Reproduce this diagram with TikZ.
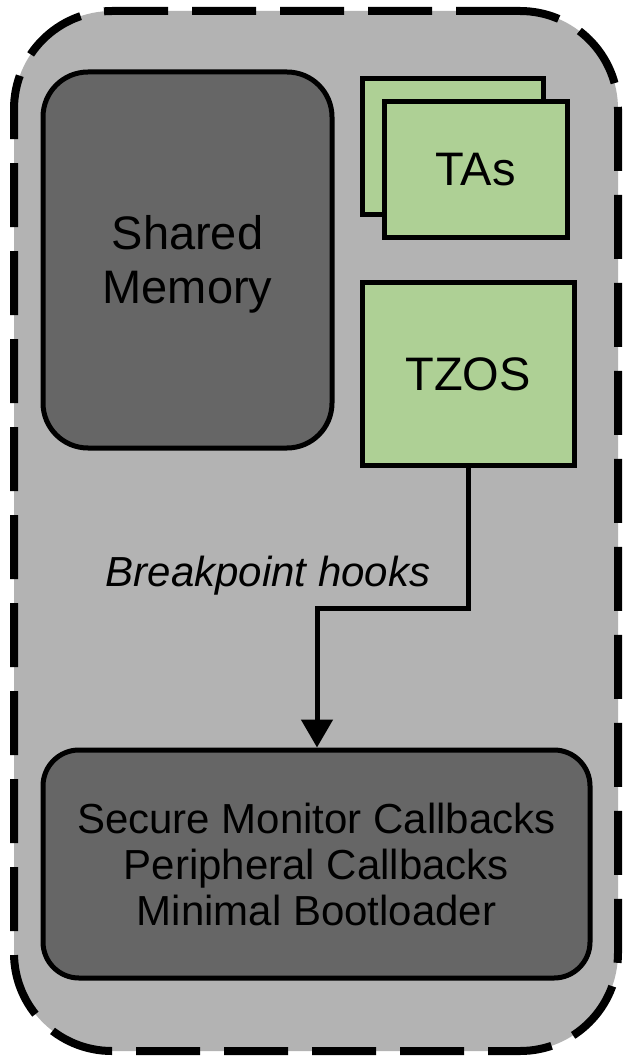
\documentclass[tikz,border=0pt]{standalone}
\usepackage{fontspec}
\setmainfont{Liberation Sans}
\usetikzlibrary{arrows.meta}
\definecolor{outerfill}{RGB}{179,179,179}
\definecolor{darkfill}{RGB}{102,102,102}
\definecolor{greenfill}{RGB}{174,208,149}
\begin{document}
\begin{tikzpicture}[x=1pt,y=-1pt,
  box/.style={draw=black,line width=5pt,inner sep=0pt,align=center},
  darkbox/.style={box,fill=darkfill},
  greenbox/.style={box,fill=greenfill,font=\fontsize{47}{54}\selectfont},
  conn/.style={line width=5pt,-{Triangle[width=31pt,length=28pt]}}
]
\useasboundingbox (0,0) rectangle (625,1056);
\node[draw=black,fill=outerfill,line width=8pt,dash pattern=on 64pt off 24pt,
  rounded corners=98pt,minimum width=604pt,minimum height=1040pt,inner sep=0pt]
  (outer) at (316,531) {};
\node[darkbox,rounded corners=45pt,minimum width=289pt,minimum height=376pt] (shared) at (187.5,260) {};
\node[align=center,inner sep=0pt,font=\fontsize{47}{54}\selectfont] (sharedtxt) at (187.5,264) {Shared\\Memory};
\node[greenbox,minimum width=181pt,minimum height=136pt] (taback) at (452.5,147) {};
\node[greenbox,minimum width=183pt,minimum height=136pt] (tas) at (475.5,170) {TAs};
\node[greenbox,minimum width=212pt,minimum height=182pt] (tzos) at (468,374) {TZOS};
\node[darkbox,rounded corners=36pt,minimum width=547pt,minimum height=228pt,
  font=\fontsize{42}{46}\selectfont] (bottom) at (316.5,864)
  {Secure Monitor Callbacks\\Peripheral Callbacks\\Minimal Bootloader};
\node[font=\fontsize{42}{48}\selectfont\itshape,inner sep=0pt] (lbl) at (268,576) {Breakpoint hooks};
\coordinate (bend) at (317,608);
\draw[conn] (tzos.south) |- (bend) -- (bend |- bottom.north);
\end{tikzpicture}
\end{document}
